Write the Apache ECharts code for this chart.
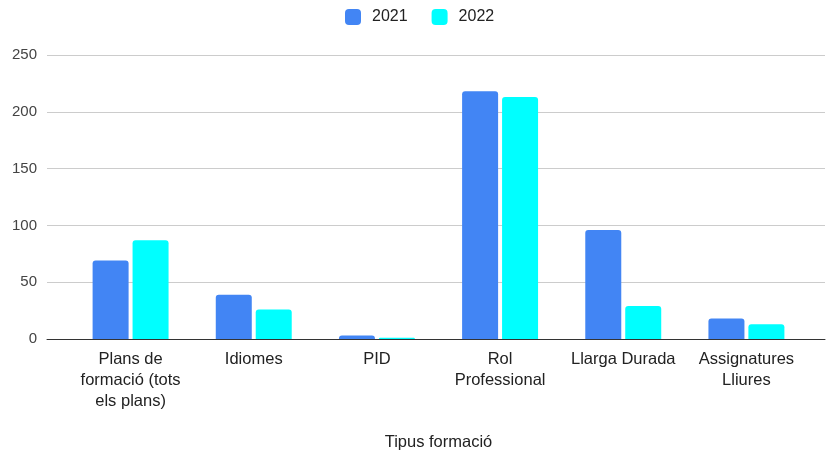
<!DOCTYPE html>
<html><head><meta charset="utf-8">
<script src="https://cdn.jsdelivr.net/npm/echarts@6/dist/echarts.min.js"></script>
<style>html,body{margin:0;padding:0;background:#fff}#c{width:826px;height:452px}</style>
</head><body><div id="c"></div>
<script>
const categories = ["Plans de\nformació (tots\nels plans)", "Idiomes", "PID", "Rol\nProfessional", "Llarga Durada", "Assignatures\nLliures"];
const series2021 = [69, 39, 3, 218, 96, 18];
const series2022 = [87, 26, 1, 213, 29, 13];
const yTicks = { min: 0, max: 250, interval: 50 };
const axisTitle = "Tipus formació";

const font = "Liberation Sans, Arial, sans-serif";
const chart = echarts.init(document.getElementById('c'), null, { renderer: 'canvas' });
chart.setOption({
  animation: false,
  textStyle: { fontFamily: font },
  legend: {
    top: 4, left: 340, itemWidth: 16, itemHeight: 16, itemGap: 24, icon: 'roundRect',
    textStyle: { fontSize: 16, color: '#222', fontFamily: font, padding: [0, 0, 0, 6] },
    data: ['2021', '2022']
  },
  grid: [
    { left: 47, right: 1, top: 55, bottom: 113, outerBoundsMode: 'none', containLabel: false },
    { left: 69, right: 18, top: 55, bottom: 113, outerBoundsMode: 'none', containLabel: false }
  ],
  xAxis: [
    { gridIndex: 0, type: 'value', min: 0, max: 1, axisLabel: { show: false }, axisTick: { show: false },
      splitLine: { show: false }, axisLine: { show: true, onZero: false, lineStyle: { color: '#333', width: 1 } } },
    { gridIndex: 1, type: 'category', data: categories, axisLine: { show: false }, axisTick: { show: false },
      axisLabel: { interval: 0, margin: 10, fontSize: 16.5, lineHeight: 21, color: '#222', fontFamily: font },
      name: axisTitle, nameLocation: 'middle', nameGap: 95,
      nameTextStyle: { fontSize: 16.5, color: '#222', fontFamily: font } }
  ],
  yAxis: [
    { gridIndex: 0, type: 'value', min: yTicks.min, max: yTicks.max, interval: yTicks.interval,
      axisLine: { show: false }, axisTick: { show: false },
      axisLabel: { margin: 10, fontSize: 15, color: '#444', fontFamily: font },
      splitLine: { lineStyle: { color: '#cccccc', width: 1 } } },
    { gridIndex: 1, type: 'value', min: yTicks.min, max: yTicks.max, interval: yTicks.interval,
      show: false, splitLine: { show: false } }
  ],
  series: [
    { name: '2021', type: 'bar', xAxisIndex: 1, yAxisIndex: 1, data: series2021, barWidth: 36, barGap: '11%',
      itemStyle: { color: '#4285F4', borderRadius: [3, 3, 0, 0] } },
    { name: '2022', type: 'bar', xAxisIndex: 1, yAxisIndex: 1, data: series2022, barWidth: 36, barGap: '11%',
      itemStyle: { color: '#00FFFF', borderRadius: [3, 3, 0, 0] } }
  ]
});
</script></body></html>
